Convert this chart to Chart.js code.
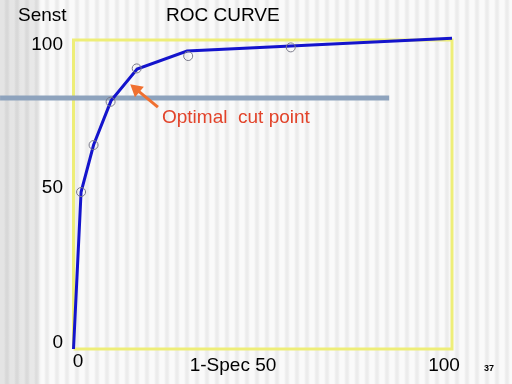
<!DOCTYPE html>
<html>
<head>
<meta charset="utf-8">
<script src="https://cdn.jsdelivr.net/npm/chart.js@4"></script>
<style>
  html, body { margin: 0; padding: 0; }
  #wrap {
    width: 512px; height: 384px; position: relative;
    background:
      linear-gradient(90deg, rgba(0,0,0,0.09) 0, rgba(0,0,0,0.07) 36px, rgba(0,0,0,0.0) 42px, rgba(0,0,0,0) 100%),
      repeating-linear-gradient(90deg, #fafafa 0, #fafafa 4px, #ececec 6px, #ececec 8px, #fafafa 10px);
  }
</style>
</head>
<body>
<div id="wrap"><canvas id="roc" width="512" height="384"></canvas></div>
<script>
// ROC curve (line) and observed points (circles), values in %
const rocX = [0, 2.0, 5.3, 9.9, 16.8, 30.0, 100];
const rocY = [0, 50.8, 66.0, 80.3, 90.6, 96.4, 100.6];
const ptX = [2.0, 5.3, 9.8, 16.7, 30.3, 57.4];
const ptY = [50.8, 66.0, 80.0, 90.8, 94.8, 97.6];

// horizontal reference line at the optimal cut
const cutX = [-19.4, 83.4];
const cutY = [81.2, 81.2];

// frame around the plot
const boxX = [0, 0, 100, 100, 0];
const boxY = [0, 100, 100, 0, 0];

// arrow pointing at the cut point (tail -> head)
const arrowX = [22.3, 16.6];
const arrowY = [78.3, 84.0];

const xTicks = [0, 50, 100];
const xTickLabels = ['0', '1-Spec 50', '100'];
const yTicks = [0, 50, 100];
const yTickLabels = ['0', '50', '100'];

const toPts = (xs, ys) => xs.map((x, i) => ({ x: x, y: ys[i] }));

const textPlugin = {
    id: 'slideText',
    afterDatasetsDraw(chart) {
        const ctx = chart.ctx;
        const xs = chart.scales.x, ys = chart.scales.y;
        ctx.save();
        ctx.textBaseline = 'middle';
        ctx.fillStyle = '#000';
        ctx.font = '19px "Liberation Sans", Arial, sans-serif';

        // y ticks
        const yNudge = [-6, -7, 5];
        ctx.textAlign = 'right';
        yTicks.forEach((v, i) => ctx.fillText(yTickLabels[i], 63, ys.getPixelForValue(v) + yNudge[i]));

        // x ticks: last word centred on its tick
        const xNudge = [4.5, 3, -8];
        const xRow = [362, 366, 366];
        ctx.textAlign = 'right';
        xTicks.forEach((v, i) => {
            const words = xTickLabels[i].split(' ');
            const w = ctx.measureText(words[words.length - 1]).width;
            ctx.fillText(xTickLabels[i], xs.getPixelForValue(v) + w / 2 + xNudge[i], xRow[i]);
        });

        ctx.textAlign = 'left';
        ctx.fillText('Senst', 18, 16);
        ctx.fillText('ROC CURVE', 166, 16);

        ctx.fillStyle = '#e2432a';
        ctx.fillText('Optimal  cut point', 162, 118);

        ctx.fillStyle = '#000';
        ctx.font = 'bold 9px "Liberation Sans", Arial, sans-serif';
        ctx.fillText('37', 484, 369);
        ctx.restore();
    }
};

new Chart(document.getElementById('roc'), {
    type: 'scatter',
    data: {
        datasets: [
            { data: toPts(boxX, boxY), showLine: true, borderColor: '#eeee78', borderWidth: 3,
              pointRadius: 0, order: 4 },
            { data: toPts(cutX, cutY), showLine: true, borderColor: '#8ea3bd', borderWidth: 5,
              pointRadius: 0, borderCapStyle: 'butt', order: 3 },
            { data: toPts(rocX, rocY), showLine: true, borderColor: '#1414cc', borderWidth: 3,
              pointRadius: 0, order: 2 },
            { data: toPts(ptX, ptY), showLine: false, pointStyle: 'circle', pointRadius: 4.5,
              pointBorderColor: '#7a7a8a', pointBackgroundColor: 'rgba(0,0,0,0)', pointBorderWidth: 1, order: 1 },
            { data: toPts(arrowX, arrowY), showLine: true, borderColor: '#f07030', borderWidth: 3,
              pointStyle: 'triangle', pointRadius: [0, 5], pointRotation: -50,
              pointBackgroundColor: '#f07030', pointBorderColor: '#f07030', order: 0 }
        ]
    },
    options: {
        responsive: false,
        animation: false,
        layout: { padding: 0, autoPadding: false },
        plugins: { legend: { display: false }, tooltip: { enabled: false } },
        scales: {
            x: { type: 'linear', display: false, min: -19.42, max: 115.85 },
            y: { type: 'linear', display: false, min: -11.33, max: 112.94 }
        }
    },
    plugins: [textPlugin]
});
</script>
</body>
</html>
